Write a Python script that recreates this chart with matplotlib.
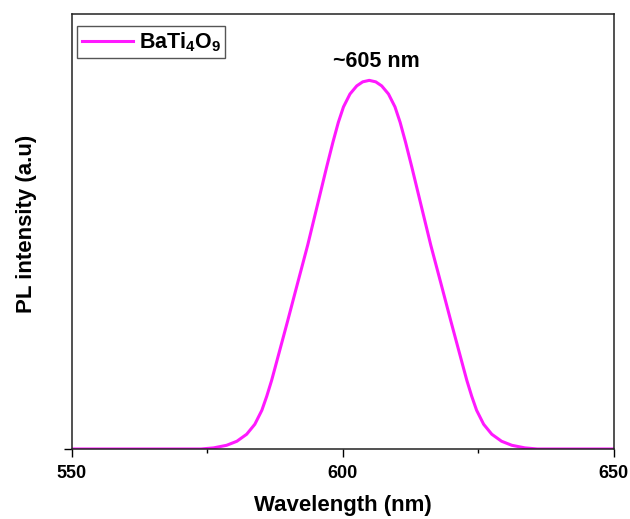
import matplotlib
matplotlib.use('Agg')
import matplotlib.pyplot as plt
import numpy as np

plt.rcParams['font.family'] = ['Liberation Sans', 'DejaVu Sans']
plt.rcParams['font.weight'] = 'bold'
plt.rcParams['mathtext.default'] = 'regular'

# PL spectrum (normalised intensity)
wavelength = [550, 560, 570, 573.9, 576.2, 578.6, 580.5, 582.3, 583.8, 585.1,
              586.0, 586.9, 587.6, 588.35, 589.85, 591.55, 593.55, 595.45,
              597.05, 598.2, 599.2, 600.15, 601.35, 602.6, 603.7, 604.9,
              606.1, 607.2, 608.45, 609.65, 610.6, 611.6, 612.75, 614.35,
              616.25, 618.25, 619.95, 621.45, 622.2, 622.9, 623.8, 624.7,
              626.0, 627.5, 629.3, 631.2, 633.6, 635.9, 640, 650]
intensity = [0.0, 0.0, 0.0, 0.0, 0.003, 0.010, 0.021, 0.040, 0.067, 0.105,
             0.143, 0.186, 0.224, 0.265, 0.347, 0.442, 0.553, 0.668,
             0.765, 0.832, 0.886, 0.928, 0.963, 0.985, 0.996, 1.0,
             0.996, 0.985, 0.963, 0.928, 0.886, 0.832, 0.765, 0.668,
             0.553, 0.442, 0.347, 0.265, 0.224, 0.186, 0.143, 0.105,
             0.067, 0.040, 0.021, 0.010, 0.003, 0.0, 0.0, 0.0]
x_ticks = [550, 600, 650]
x_minor = [575, 625]
series_name = 'BaTi$_4$O$_9$'
peak_label = '~605 nm'
peak_pos = (606.3, 1.05)

fig = plt.figure(figsize=(6.3, 5.19), dpi=100)
ax = fig.add_axes([0.1135, 0.1349, 0.8608, 0.8381])

ax.plot(wavelength, intensity, color='#ff19ff', lw=2.2, label=series_name,
        solid_joinstyle='round')

ax.set_xlim(550, 650)
ax.set_ylim(0, 1.18)
ax.set_xticks(x_ticks)
ax.set_xticks(x_minor, minor=True)
ax.set_yticks([0])
ax.tick_params(axis='x', which='major', direction='out', length=5.5, width=1,
               labelsize=13, pad=6)
ax.tick_params(axis='x', which='minor', direction='out', length=3, width=1)
ax.tick_params(axis='y', which='major', direction='out', length=6, width=1,
               labelleft=False)
for s in ax.spines.values():
    s.set_linewidth(1.1)
    s.set_color('#222222')

ax.set_xlabel('Wavelength (nm)', fontsize=16, fontweight='bold')
ax.xaxis.set_label_coords(0.5, -0.105)
ax.set_ylabel('PL intensity (a.u)', fontsize=16, fontweight='bold')
ax.yaxis.set_label_coords(-0.064, 0.518)

ax.text(peak_pos[0], peak_pos[1], peak_label, fontsize=15.5, fontweight='bold',
        ha='center', va='center')

leg = ax.legend(loc='upper left', bbox_to_anchor=(0.0105, 0.972),
                borderaxespad=0, fontsize=15.5, handlelength=2.4,
                handletextpad=0.25, borderpad=0.2, fancybox=False,
                framealpha=1, edgecolor='#555555')
leg.get_frame().set_linewidth(1.0)

fig.savefig('out.png', dpi=100)
